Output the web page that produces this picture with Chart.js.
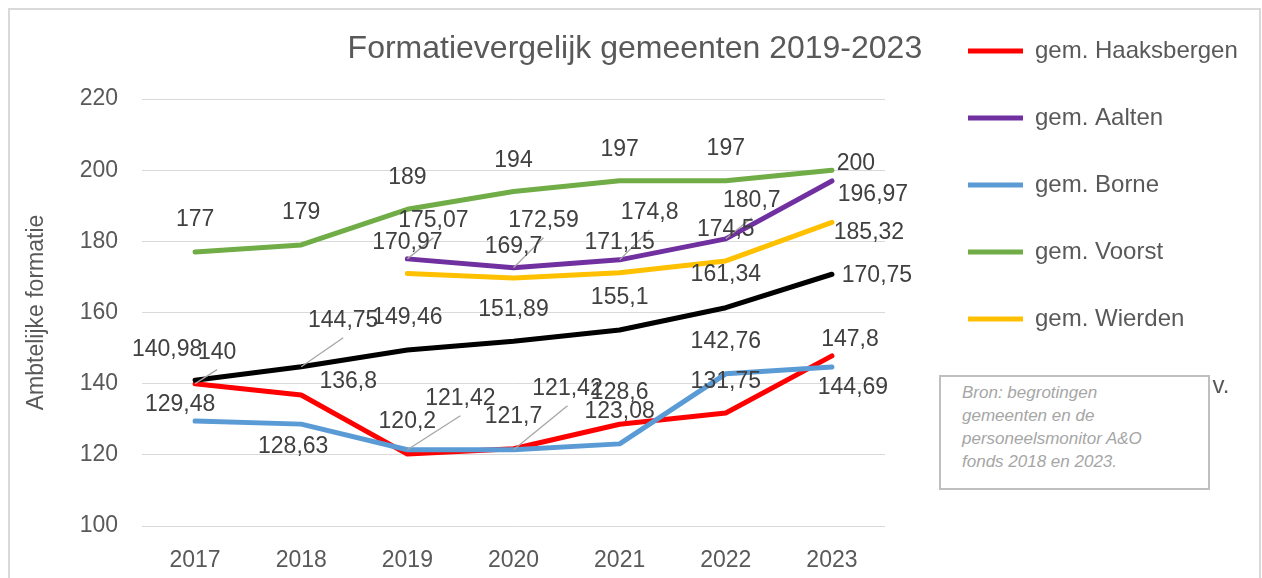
<!DOCTYPE html>
<html>
<head>
<meta charset="utf-8">
<script src="https://cdn.jsdelivr.net/npm/chart.js@4.4.1/dist/chart.umd.min.js"></script>
<style>
  body { margin: 0; background: #fff; }
  #wrap { position: relative; width: 1262px; height: 578px; overflow: hidden; }
  #frame { position: absolute; left: 8px; top: 8px; width: 1253px; height: 600px; border: 2px solid #d9d9d9; box-sizing: border-box; }
  canvas { position: absolute; left: 0; top: 0; }
  #bron { position: absolute; left: 939px; top: 375px; width: 271px; height: 115px; box-sizing: border-box;
          border: 2px solid #bfbfbf; background: #fff; color: #a6a6a6; padding: 4px 0 0 21px;
          font: italic 17px "Liberation Sans", Arial, sans-serif; line-height: 23px; }
</style>
</head>
<body>
<div id="wrap">
  <div id="frame"></div>
  <canvas id="grafiek" width="1262" height="578"></canvas>
  <div id="bron">Bron: begrotingen<br>gemeenten en de<br>personeelsmonitor A&amp;O<br>fonds 2018 en 2023.</div>
</div>
<script>
var jaren = ['2017', '2018', '2019', '2020', '2021', '2022', '2023'];
var namen = ['gem. Haaksbergen', 'gem. Aalten', 'gem. Borne', 'gem. Voorst', 'gem. Wierden', 'gemiddeld gem. v.'];

var haaksbergen = [140, 136.8, 120.2, 121.7, 128.6, 131.75, 147.8];
var aalten = [null, null, 175.07, 172.59, 174.8, 180.7, 196.97];
var borne = [129.48, 128.63, 121.42, 121.42, 123.08, 142.76, 144.69];
var voorst = [177, 179, 189, 194, 197, 197, 200];
var wierden = [null, null, 170.97, 169.7, 171.15, 174.5, 185.32];
var gemiddeld = [140.98, 144.75, 149.46, 151.89, 155.1, 161.34, 170.75];

var kleuren = ['#ff0000', '#7030a0', '#5b9bd5', '#70ad47', '#ffc000', '#000000'];

// label offsets (dx, dy, leader line) relative to each point
var labelPos = [
  [[22, -31, 1], [47, -13], [0, -32], [0, -32], [0, -32], [0, -31], [18, -16]],
  [null, null, [26, -38, 1], [30, -47, 1], [30, -47, 1], [26, -38, 1], [41, 14]],
  [[-15, -16], [-8, 23], [53, -51, 1], [54, -61, 1], [0, -32], [0, -32], [21, 21]],
  [[0, -32], [0, -32], [0, -32], [0, -31], [0, -31], [0, -32], [24, -7]],
  [null, null, [0, -31], [0, -31], [0, -30], [0, -31], [37, 10]],
  [[-28, -31], [42, -46, 1], [0, -32], [0, -32], [0, -32], [0, -33], [45, 1]]
];

var fam = '"Liberation Sans", Arial, sans-serif';
Chart.defaults.font.family = fam;

var waardeLabels = {
  id: 'waardeLabels',
  afterDatasetsDraw: function(chart) {
    var ctx = chart.ctx;
    ctx.save();
    ctx.font = '23px ' + fam;
    ctx.textAlign = 'center';
    ctx.textBaseline = 'middle';
    chart.data.datasets.forEach(function(ds, i) {
      var meta = chart.getDatasetMeta(i);
      meta.data.forEach(function(pt, j) {
        var v = ds.data[j];
        var p = labelPos[i][j];
        if (v === null || !p) return;
        var lx = pt.x + p[0], ly = pt.y + p[1];
        if (p[2]) {
          ctx.strokeStyle = '#a6a6a6';
          ctx.lineWidth = 1.3;
          ctx.beginPath();
          ctx.moveTo(pt.x, pt.y);
          ctx.lineTo(lx, ly + 17);
          ctx.stroke();
        }
        ctx.fillStyle = '#404040';
        ctx.fillText(String(v).replace('.', ','), lx, ly);
      });
    });
    ctx.restore();
  }
};

// legend width decides the right padding so the legend starts at a fixed spot
var mctx = document.createElement('canvas').getContext('2d');
mctx.font = '24px ' + fam;
var maxW = Math.max.apply(null, namen.map(function(n) { return mctx.measureText(n).width; }));
var legendW = 53 + 55 + 12 + maxW;
var padRight = 1262 - 925 - legendW;

var reeksen = [haaksbergen, aalten, borne, voorst, wierden, gemiddeld];
var datasets = reeksen.map(function(d, i) {
  return {
    label: namen[i],
    data: d,
    borderColor: kleuren[i],
    backgroundColor: kleuren[i],
    borderWidth: 5,
    pointBorderWidth: 5,
    pointRadius: 0,
    pointHoverRadius: 0,
    tension: 0,
    borderCapStyle: 'round',
    borderJoinStyle: 'round',
    fill: false,
    order: -i
  };
});

new Chart(document.getElementById('grafiek'), {
  type: 'line',
  data: { labels: jaren, datasets: datasets },
  plugins: [waardeLabels],
  options: {
    responsive: false,
    animation: false,
    devicePixelRatio: 1,
    layout: { padding: { left: 22, top: -4, right: padRight, bottom: 0 } },
    plugins: {
      title: {
        display: true,
        text: 'Formatievergelijk gemeenten 2019-2023',
        color: '#595959',
        font: { size: 32, weight: 'normal' },
        padding: { top: 33.8, bottom: 30.8 }
      },
      legend: {
        position: 'right',
        align: 'start',
        maxWidth: 600,
        labels: {
          usePointStyle: true,
          pointStyle: 'line',
          pointStyleWidth: 55,
          padding: 43,
          color: '#595959',
          font: { size: 24 },
          sort: function(a, b) { return a.datasetIndex - b.datasetIndex; }
        }
      },
      tooltip: { enabled: false }
    },
    scales: {
      x: {
        offset: true,
        grid: { display: false },
        border: { display: false },
        ticks: { color: '#595959', font: { size: 23 }, padding: 13 },
        afterFit: function(s) { s.height = 52; }
      },
      y: {
        min: 100,
        max: 220,
        ticks: { stepSize: 20, color: '#595959', font: { size: 23 }, padding: 24 },
        grid: { color: '#d9d9d9', drawTicks: false, lineWidth: 1 },
        border: { display: false },
        title: { display: true, text: 'Ambtelijke formatie', color: '#595959', font: { size: 23 }, padding: { top: 1, bottom: 0 } },
        afterFit: function(s) { s.width = 120; }
      },
      yR: {
        position: 'right',
        display: true,
        grid: { display: false },
        ticks: { display: false },
        border: { display: false },
        afterFit: function(s) { s.width = 40; }
      }
    }
  }
});
</script>
</body>
</html>
